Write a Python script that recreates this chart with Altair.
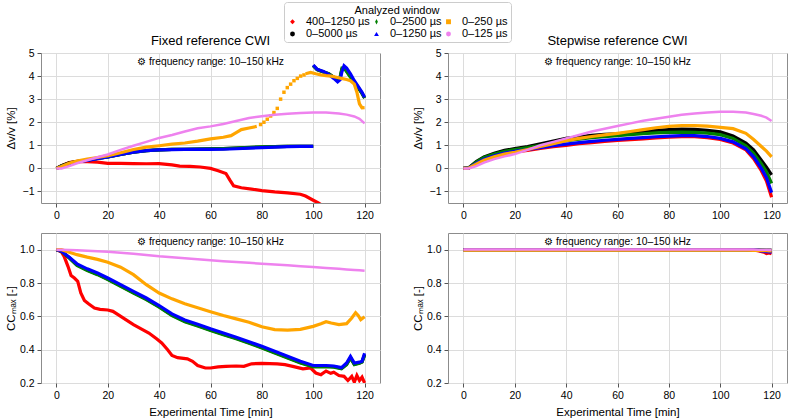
import altair as alt
import pandas as pd

FONT = "Liberation Sans"

# ---- series definitions (legend order, row-major in 3 columns) ----
SERIES = ["400–1250 µs", "0–2500 µs", "0–250 µs", "0–5000 µs", "0–1250 µs", "0–125 µs"]
COLORS = ["#ff0000", "#008000", "#ffa500", "#000000", "#0000ff", "#ee82ee"]
SHAPES = ["M0,-1L1,0L0,1L-1,0Z", "M0,-1.1L0.55,0L0,1.1L-0.55,0Z", "square", "circle", "triangle-up", "circle"]
DRAW_ORDER = ["400–1250 µs", "0–5000 µs", "0–2500 µs", "0–1250 µs", "0–250 µs", "0–125 µs"]
NOTE = "⚙ frequency range: 10–150 kHz"

# common time grid [min]
T_GRID = [0, 2, 5, 8, 12, 16, 20, 25, 30, 35, 40, 45, 50, 55, 60, 65, 70, 75, 80, 85, 90,
          95, 100, 105, 110, 113, 116, 118, 120]

# ---------------- Fixed reference: dv/v [%] ----------------
T_FIX_RED = [0, 2, 5, 8, 12, 16, 20, 25, 30, 35, 40, 45, 48, 52, 56, 60, 63, 66, 67.5, 69, 72,
             76, 80, 85, 90, 95, 97, 100, 102, 105, 110, 115, 120]
DVV_FIX_RED = [0, 0.12, 0.25, 0.3, 0.29, 0.27, 0.22, 0.22, 0.21, 0.2, 0.21, 0.15, 0.1, 0.09, 0.06,
               0.0, -0.1, -0.22, -0.5, -0.76, -0.84, -0.9, -0.96, -1.02, -1.06, -1.12, -1.2,
               -1.38, -1.5, -1.7, -2.0, -2.3, -2.6]

T_FIX_LOW = [0, 2, 5, 8, 12, 16, 20, 25, 30, 35, 40, 45, 50, 55, 60, 65, 70, 75, 80, 85, 90, 95, 100]
DVV_FIX_BLACK_LOW = [0, 0.12, 0.24, 0.3, 0.36, 0.43, 0.5, 0.6, 0.7, 0.77, 0.8, 0.82, 0.83, 0.84,
                     0.85, 0.86, 0.88, 0.9, 0.92, 0.94, 0.95, 0.96, 0.96]
DVV_FIX_GREEN_LOW = [0, 0.1, 0.22, 0.29, 0.36, 0.43, 0.5, 0.6, 0.7, 0.77, 0.8, 0.82, 0.83, 0.84,
                     0.85, 0.86, 0.88, 0.91, 0.93, 0.94, 0.95, 0.96, 0.96]
DVV_FIX_BLUE_LOW = [0, 0.08, 0.2, 0.28, 0.35, 0.42, 0.5, 0.6, 0.7, 0.77, 0.8, 0.81, 0.82, 0.82,
                    0.82, 0.83, 0.85, 0.88, 0.9, 0.92, 0.94, 0.95, 0.95]

T_FIX_HIGH = [100, 101.5, 104, 106, 108, 109.5, 110.5, 111.2, 112, 113, 114.5, 116, 117.5, 119, 120]
DVV_FIX_BLACK_HIGH = [4.45, 4.28, 4.18, 4.1, 3.95, 3.8, 3.95, 4.3, 4.38, 4.22, 3.98, 3.75, 3.5, 3.25, 3.05]
DVV_FIX_GREEN_HIGH = [4.45, 4.28, 4.18, 4.1, 3.95, 3.8, 3.98, 4.35, 4.36, 4.2, 3.95, 3.75, 3.5, 3.25, 3.05]
DVV_FIX_BLUE_HIGH = [4.48, 4.3, 4.2, 4.08, 3.9, 3.75, 3.85, 4.2, 4.45, 4.35, 4.1, 3.8, 3.55, 3.3, 3.08]

T_FIX_ORANGE_A = [0, 2, 5, 8, 12, 16, 20, 25, 30, 35, 40, 45, 50, 55, 60, 65, 68, 70, 72, 75, 78]
DVV_FIX_ORANGE_A = [0, 0.08, 0.22, 0.32, 0.4, 0.47, 0.55, 0.68, 0.82, 0.92, 0.98, 1.05, 1.1, 1.18,
                    1.28, 1.35, 1.42, 1.55, 1.68, 1.75, 1.82]
T_FIX_ORANGE_PTS = [79.5, 80.8, 82.1, 83.4, 84.7, 86, 87.3, 88.6, 89.9, 91.2, 92.5, 93.8, 95.1, 96.4]
DVV_FIX_ORANGE_PTS = [1.9, 2.0, 2.13, 2.27, 2.42, 2.6, 3.0, 3.3, 3.5, 3.65, 3.8, 3.9, 4.0, 4.05]
T_FIX_ORANGE_C = [97, 99, 101, 103, 105, 107, 109, 111, 113, 114.5, 116, 117, 118, 119, 120]
DVV_FIX_ORANGE_C = [4.1, 4.16, 4.1, 4.05, 4.02, 4.0, 3.95, 3.9, 3.85, 3.8, 3.65, 3.3, 2.8, 2.62, 2.63]

DVV_FIX_VIOLET = [0, 0.0, 0.1, 0.22, 0.35, 0.48, 0.6, 0.8, 0.98, 1.15, 1.32, 1.45, 1.6, 1.74, 1.82,
                  1.92, 2.05, 2.18, 2.26, 2.32, 2.37, 2.4, 2.42, 2.42, 2.38, 2.33, 2.25, 2.15, 1.95]

# ---------------- Stepwise reference: dv/v [%] (on T_GRID) ----------------
DVV_STEP_RED = [0, 0.01, 0.2, 0.38, 0.52, 0.63, 0.71, 0.78, 0.86, 0.94, 1.0, 1.07, 1.12, 1.17,
                1.21, 1.25, 1.28, 1.32, 1.35, 1.37, 1.37, 1.33, 1.25, 1.1, 0.8, 0.42, -0.1, -0.55, -1.25]
DVV_STEP_BLACK = [0, 0.02, 0.3, 0.5, 0.65, 0.78, 0.86, 0.95, 1.07, 1.18, 1.3, 1.37, 1.43, 1.48,
                  1.5, 1.55, 1.6, 1.65, 1.68, 1.7, 1.69, 1.65, 1.58, 1.4, 1.1, 0.8, 0.35, 0.05, -0.28]
DVV_STEP_GREEN = [0, 0.02, 0.27, 0.47, 0.62, 0.74, 0.82, 0.9, 1.0, 1.1, 1.2, 1.27, 1.33, 1.38,
                  1.42, 1.46, 1.5, 1.54, 1.56, 1.57, 1.56, 1.53, 1.46, 1.3, 0.98, 0.65, 0.2, -0.15, -0.65]
DVV_STEP_BLUE = [0, 0.01, 0.22, 0.4, 0.55, 0.66, 0.74, 0.82, 0.9, 0.98, 1.05, 1.12, 1.17, 1.22,
                 1.26, 1.3, 1.33, 1.37, 1.4, 1.42, 1.42, 1.38, 1.3, 1.15, 0.85, 0.5, 0.0, -0.4, -1.05]
DVV_STEP_ORANGE = [0, 0.01, 0.18, 0.35, 0.5, 0.62, 0.7, 0.82, 0.95, 1.07, 1.2, 1.3, 1.38, 1.45,
                   1.52, 1.6, 1.68, 1.76, 1.82, 1.85, 1.85, 1.83, 1.78, 1.72, 1.52, 1.25, 0.95, 0.75, 0.5]
DVV_STEP_VIOLET = [0, 0.0, 0.1, 0.25, 0.4, 0.52, 0.62, 0.8, 1.0, 1.15, 1.3, 1.45, 1.6, 1.72,
                   1.84, 1.95, 2.06, 2.15, 2.24, 2.32, 2.38, 2.42, 2.45, 2.45, 2.42, 2.36, 2.28, 2.2, 2.05]

# ---------------- Fixed reference: CC_max ----------------
T_CC_RED = [0, 2, 3, 4.5, 5.7, 7, 8.3, 9.5, 10.9, 12.5, 14.8, 17, 20, 22, 24, 27, 30, 33, 36, 39,
            41, 43.3, 45, 47.2, 51, 53, 55, 58, 60, 63, 66, 70, 73, 76, 80, 86, 89, 92, 96, 99,
            101, 103, 105, 106.8, 108, 110, 112, 113.5, 115, 116, 117, 118, 119, 120]
CC_FIX_RED = [1.0, 0.985, 0.96, 0.9, 0.845, 0.83, 0.81, 0.74, 0.695, 0.675, 0.65, 0.642, 0.638,
              0.63, 0.61, 0.58, 0.55, 0.525, 0.5, 0.465, 0.44, 0.4, 0.365, 0.352, 0.345, 0.33,
              0.305, 0.29, 0.29, 0.297, 0.3, 0.302, 0.3, 0.315, 0.318, 0.315, 0.31, 0.3, 0.285,
              0.29, 0.26, 0.25, 0.272, 0.258, 0.265, 0.245, 0.24, 0.215, 0.24, 0.205, 0.245,
              0.215, 0.235, 0.2]

T_CC_MID = [0, 2, 5, 8, 12, 16, 20, 25, 30, 35, 40, 45, 50, 55, 60, 65, 70, 75, 80, 85, 90, 95,
            100, 105, 108, 111, 113, 114.5, 116, 118, 119, 120]
CC_FIX_BLUE = [1.0, 0.99, 0.955, 0.915, 0.885, 0.86, 0.83, 0.79, 0.75, 0.71, 0.665, 0.615, 0.578,
               0.552, 0.525, 0.5, 0.475, 0.448, 0.42, 0.39, 0.36, 0.33, 0.305, 0.305, 0.302,
               0.292, 0.32, 0.36, 0.32, 0.325, 0.33, 0.378]
CC_FIX_GREEN = [1.0, 0.99, 0.95, 0.905, 0.875, 0.85, 0.82, 0.78, 0.74, 0.7, 0.655, 0.605, 0.568,
                0.542, 0.515, 0.49, 0.465, 0.438, 0.41, 0.38, 0.35, 0.32, 0.297, 0.298, 0.295,
                0.285, 0.31, 0.35, 0.31, 0.318, 0.325, 0.365]
CC_FIX_BLACK = [1.0, 0.99, 0.952, 0.908, 0.878, 0.853, 0.823, 0.783, 0.743, 0.703, 0.658, 0.608,
                0.571, 0.545, 0.518, 0.493, 0.468, 0.441, 0.413, 0.383, 0.353, 0.323, 0.3, 0.3,
                0.298, 0.288, 0.313, 0.352, 0.313, 0.32, 0.327, 0.37]

T_CC_ORANGE = [0, 2, 5, 8, 12, 16, 20, 25, 30, 35, 40, 45, 50, 55, 60, 65, 70, 75, 80, 85, 90,
               95, 100, 103, 105, 107, 110, 113, 115, 116.5, 117.5, 118.5, 120]
CC_FIX_ORANGE = [1.0, 1.0, 0.985, 0.97, 0.955, 0.942, 0.925, 0.895, 0.85, 0.79, 0.74, 0.705,
                 0.675, 0.652, 0.628, 0.605, 0.585, 0.565, 0.537, 0.52, 0.517, 0.522, 0.54,
                 0.555, 0.568, 0.56, 0.55, 0.556, 0.59, 0.622, 0.605, 0.58, 0.598]

CC_FIX_VIOLET = [1.0, 1.0, 0.998, 0.996, 0.993, 0.99, 0.988, 0.982, 0.975, 0.968, 0.96, 0.954,
                 0.948, 0.942, 0.936, 0.931, 0.926, 0.921, 0.916, 0.911, 0.906, 0.901, 0.896,
                 0.89, 0.885, 0.881, 0.878, 0.876, 0.873]

# ---------------- Stepwise reference: CC_max ----------------
T_CC_STEP = [0, 20, 40, 60, 80, 100, 110, 113, 115, 117, 118, 119, 120]
CC_STEP_RED = [1.0, 1.0, 1.0, 1.0, 1.0, 1.0, 1.0, 0.998, 0.993, 0.985, 0.977, 0.98, 0.975]
CC_STEP_BLACK = [1.0, 1.0, 1.0, 1.0, 1.0, 1.0, 1.0, 1.0, 0.999, 0.998, 0.998, 0.997, 0.997]
CC_STEP_GREEN = [1.0, 1.0, 1.0, 1.0, 1.0, 1.0, 1.0, 0.999, 0.998, 0.997, 0.996, 0.995, 0.995]
CC_STEP_BLUE = [1.0, 1.0, 1.0, 1.0, 1.0, 1.0, 1.0, 0.999, 0.996, 0.99, 0.988, 0.987, 0.985]
CC_STEP_ORANGE = [0.997, 0.997, 0.997, 0.997, 0.997, 0.997, 0.997, 0.996, 0.995, 0.994, 0.994, 0.993, 0.993]
CC_STEP_VIOLET = [1.001, 1.001, 1.001, 1.001, 1.001, 1.001, 1.001, 1.001, 1.0, 1.0, 0.999, 0.998, 0.998]


def rows(series, seg, ts, vs):
    return [{"series": series, "seg": seg, "t": t, "v": v} for t, v in zip(ts, vs)]


R, K, G, B, O, V = SERIES[0], SERIES[3], SERIES[1], SERIES[4], SERIES[2], SERIES[5]
COLOR_OF = dict(zip(SERIES, COLORS))

fix_dvv = pd.DataFrame(
    rows(R, "a", T_FIX_RED, DVV_FIX_RED)
    + rows(K, "a", T_FIX_LOW, DVV_FIX_BLACK_LOW) + rows(K, "b", T_FIX_HIGH, DVV_FIX_BLACK_HIGH)
    + rows(G, "a", T_FIX_LOW, DVV_FIX_GREEN_LOW) + rows(G, "b", T_FIX_HIGH, DVV_FIX_GREEN_HIGH)
    + rows(B, "a", T_FIX_LOW, DVV_FIX_BLUE_LOW) + rows(B, "b", T_FIX_HIGH, DVV_FIX_BLUE_HIGH)
    + rows(O, "a", T_FIX_ORANGE_A, DVV_FIX_ORANGE_A) + rows(O, "c", T_FIX_ORANGE_C, DVV_FIX_ORANGE_C)
    + rows(V, "a", T_GRID, DVV_FIX_VIOLET)
)
fix_dvv_pts = pd.DataFrame(rows(O, "p", T_FIX_ORANGE_PTS, DVV_FIX_ORANGE_PTS))

step_dvv = pd.DataFrame(
    rows(R, "a", T_GRID, DVV_STEP_RED) + rows(K, "a", T_GRID, DVV_STEP_BLACK)
    + rows(G, "a", T_GRID, DVV_STEP_GREEN) + rows(B, "a", T_GRID, DVV_STEP_BLUE)
    + rows(O, "a", T_GRID, DVV_STEP_ORANGE) + rows(V, "a", T_GRID, DVV_STEP_VIOLET)
)
fix_cc = pd.DataFrame(
    rows(R, "a", T_CC_RED, CC_FIX_RED) + rows(K, "a", T_CC_MID, CC_FIX_BLACK)
    + rows(G, "a", T_CC_MID, CC_FIX_GREEN) + rows(B, "a", T_CC_MID, CC_FIX_BLUE)
    + rows(O, "a", T_CC_ORANGE, CC_FIX_ORANGE) + rows(V, "a", T_GRID, CC_FIX_VIOLET)
)
step_cc = pd.DataFrame(
    rows(R, "a", T_CC_STEP, CC_STEP_RED) + rows(K, "a", T_CC_STEP, CC_STEP_BLACK)
    + rows(G, "a", T_CC_STEP, CC_STEP_GREEN) + rows(B, "a", T_CC_STEP, CC_STEP_BLUE)
    + rows(O, "a", T_CC_STEP, CC_STEP_ORANGE) + rows(V, "a", T_CC_STEP, CC_STEP_VIOLET)
)

W, H = 339, 150
color_scale = alt.Scale(domain=SERIES, range=COLORS)
shape_scale = alt.Scale(domain=SERIES, range=SHAPES)

legend = alt.Legend(
    title="Analyzed window", orient="none", legendX=243, legendY=-51, columns=3,
    direction="horizontal", symbolSize=24, symbolStrokeWidth=0,
    labelFontSize=11, titleFontSize=11, titleFontWeight="normal", titleAnchor="middle",
    padding=3, strokeColor="#cccccc", fillColor="#ffffff", cornerRadius=3, columnPadding=1,
    rowPadding=0.5, labelOffset=8, titlePadding=0, labelFont=FONT, titleFont=FONT,
    labelColor="#000000", titleColor="#000000",
)


def panel(df, ydom, yvals, yfmt, ytitle, title=None, xtitle=None, pts=None):
    x = alt.X("t:Q", scale=alt.Scale(domain=[-6, 126], nice=False, zero=False),
              axis=alt.Axis(values=[0, 20, 40, 60, 80, 100, 120], format="d", title=xtitle,
                            titlePadding=6))
    y = alt.Y("v:Q", scale=alt.Scale(domain=ydom, nice=False, zero=False),
              axis=alt.Axis(values=yvals, format=yfmt, title=ytitle, titleX=-25, titleY=H / 2))
    layers = []
    for s in DRAW_ORDER:
        sub = df[df["series"] == s]
        width = 2.5 if s == V else 3.2
        layers.append(
            alt.Chart(sub).mark_line(clip=True, strokeWidth=width).encode(
                x=x, y=y, detail="seg:N", color=alt.value(COLOR_OF[s]),
            )
        )
        if pts is not None and s == O:
            # sparse samples of the 0–250 µs window; this layer also carries the legend
            layers.append(
                alt.Chart(pts).mark_point(filled=True, size=12, opacity=1, clip=True).encode(
                    x=x, y=y,
                    color=alt.Color("series:N", scale=color_scale, legend=legend),
                    shape=alt.Shape("series:N", scale=shape_scale, legend=legend),
                )
            )
    note = alt.Chart(pd.DataFrame({"note": [NOTE]})).mark_text(
        fontSize=10.3, font=FONT, baseline="middle", align="center", color="#000000"
    ).encode(text="note:N", x=alt.value(W / 2), y=alt.value(9))
    layers.append(note)
    if title:
        # panel heading, centred above the plot area
        head = alt.Chart(pd.DataFrame({"head": [title]})).mark_text(
            fontSize=13, font=FONT, baseline="middle", align="center", color="#000000"
        ).encode(text="head:N", x=alt.value(W / 2), y=alt.value(-12))
        layers.append(head)
    return alt.layer(*layers).properties(width=W, height=H)


dvv_title = "Δv/v [%]"
cc_title = "CCₘₐₓ [-]"
dvv_ticks = [-1, 0, 1, 2, 3, 4, 5]
cc_ticks = [0.2, 0.4, 0.6, 0.8, 1.0]

tl = panel(fix_dvv, [-1.5, 5], dvv_ticks, "d", dvv_title, "Fixed reference CWI", pts=fix_dvv_pts)
tr = panel(step_dvv, [-1.5, 5], dvv_ticks, "d", dvv_title, "Stepwise reference CWI")
bl = panel(fix_cc, [0.2, 1.1], cc_ticks, ".1f", cc_title, xtitle="Experimental Time [min]")
br = panel(step_cc, [0.2, 1.1], cc_ticks, ".1f", cc_title, xtitle="Experimental Time [min]")

chart = (
    alt.concat(tl, tr, bl, br, columns=2, spacing=alt.RowColnumber(row=30, column=68), bounds="flush")
    .resolve_scale(color="independent", shape="independent")
    .properties(padding={"left": 4, "top": 1, "right": 1, "bottom": 1}, background="white")
    .configure_view(stroke="#8c8c8c", strokeWidth=1)
    .configure_axis(
        domain=False, grid=True, gridColor="#dcdcdc", gridWidth=1, tickColor="#555555",
        tickSize=4, labelFont=FONT, titleFont=FONT, labelFontSize=10.5, titleFontSize=11.5,
        labelColor="#000000", titleColor="#000000", titleFontWeight="normal", labelPadding=3,
    )
)

chart.save("out.html", embed_options={"renderer": "svg", "actions": False})
